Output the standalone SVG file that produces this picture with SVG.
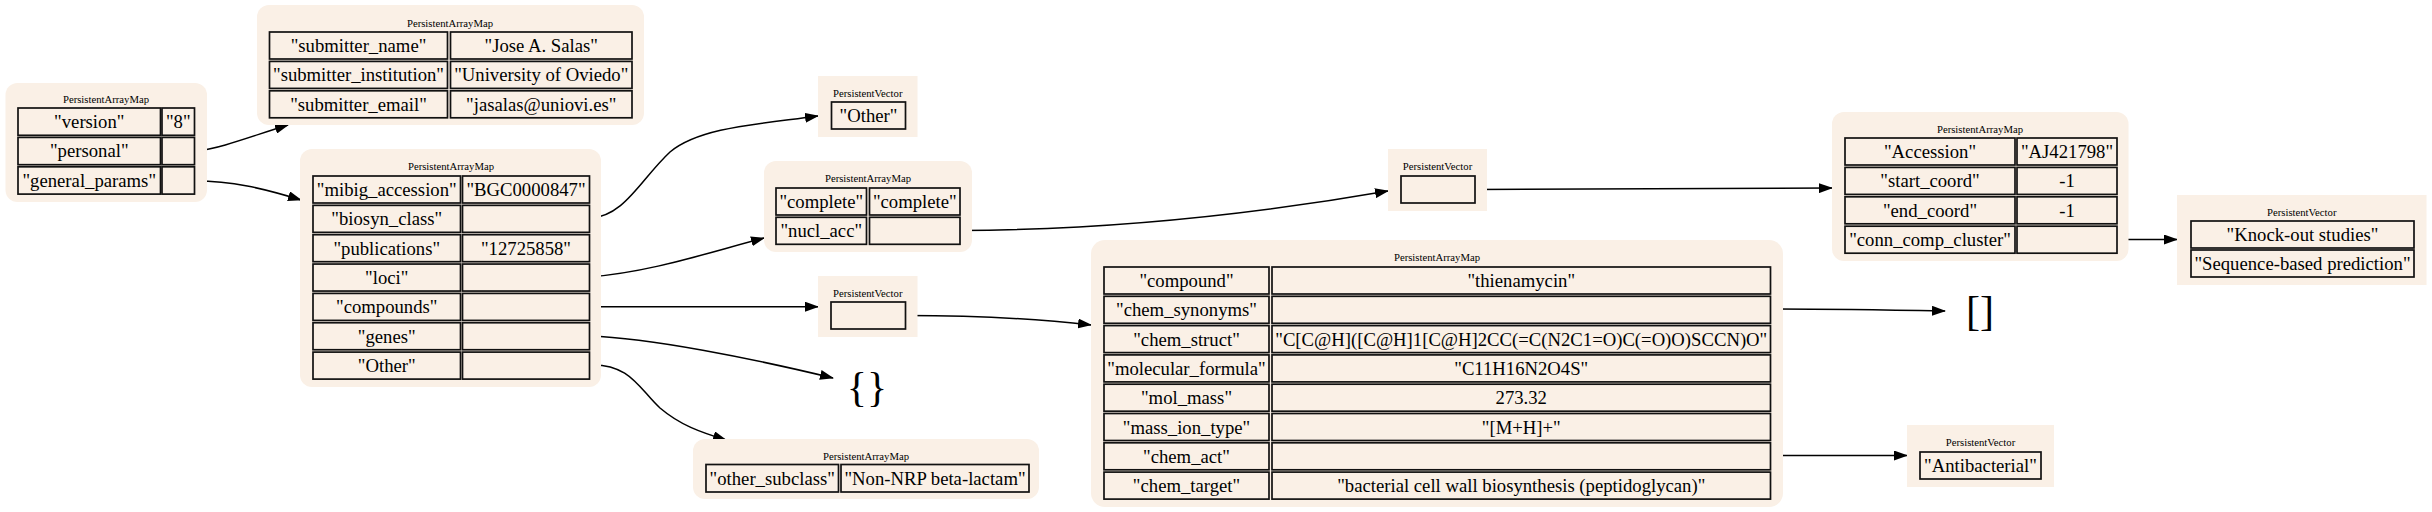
<svg xmlns="http://www.w3.org/2000/svg" width="2432" height="512" viewBox="0 0 2432 512">
<style>
.bg{fill:#faf0e6;stroke:none}
.cell{fill:#faf0e6;stroke:#111;stroke-width:1.7}
text{font-family:"Liberation Serif","Times New Roman",serif;fill:#000;text-anchor:middle}
.t{font-size:18.7px}
.ti{font-size:10.7px}
.big{font-size:42px}
.edge{fill:none;stroke:#000;stroke-width:1.5;marker-end:url(#arr)}
</style>
<defs>
<marker id="arr" markerUnits="userSpaceOnUse" markerWidth="14" markerHeight="10" viewBox="0 0 14 10" refX="13" refY="5" orient="auto">
<path d="M0,0 L14,5 L0,10 z" fill="#000"/>
</marker>
</defs>
<rect width="2432" height="512" fill="#fff"/>

<g id="connectors">
<path class="edge" d="M195,151.5 C222,148 252,136 288,125"/>
<path class="edge" d="M195,181 C232,181 262,188 301,200"/>
<path class="edge" d="M589.5,218.5 C625,216 640,180 670,152 C700,127 760,124 818,116"/>
<path class="edge" d="M589.5,277 C650,272 700,255 764,238"/>
<path class="edge" d="M589.5,306.7 L818,306.7"/>
<path class="edge" d="M589.5,336 C650,338 750,358 833,378"/>
<path class="edge" d="M589.5,365 C630,363 640,390 660,408 C680,425 700,432 726,440"/>
<path class="edge" d="M960,230.5 C1100,230 1250,215 1388,191"/>
<path class="edge" d="M1475,189.5 C1600,189.5 1720,189 1832,188"/>
<path class="edge" d="M905.5,315.5 C970,315.5 1030,318 1091,325"/>
<path class="edge" d="M1770.5,309 C1830,309 1890,310 1945,311"/>
<path class="edge" d="M1770.5,455.5 L1907,455.5"/>
<path class="edge" d="M2117,239.5 L2177,239.5"/>
</g>

<g id="n1">
<rect class="bg" x="5.5" y="83" width="201.5" height="119" rx="12"/>
<text class="ti" x="106" y="102.5">PersistentArrayMap</text>
<rect class="cell" x="18" y="108" width="142.5" height="27.3"/><rect class="cell" x="162" y="108" width="32.5" height="27.3"/>
<rect class="cell" x="18" y="137.4" width="142.5" height="27.3"/><rect class="cell" x="162" y="137.4" width="32.5" height="27.3"/>
<rect class="cell" x="18" y="166.8" width="142.5" height="27.3"/><rect class="cell" x="162" y="166.8" width="32.5" height="27.3"/>
<text class="t" x="89.25" y="128">"version"</text><text class="t" x="178.25" y="128">"8"</text>
<text class="t" x="89.25" y="157.4">"personal"</text>
<text class="t" x="89.25" y="186.8">"general_params"</text>
</g>

<g id="n2">
<rect class="bg" x="257" y="5" width="387" height="120" rx="12"/>
<text class="ti" x="450" y="26.5">PersistentArrayMap</text>
<rect class="cell" x="269.5" y="32" width="178" height="27"/><rect class="cell" x="450.5" y="32" width="181.5" height="27"/>
<rect class="cell" x="269.5" y="61.4" width="178" height="27"/><rect class="cell" x="450.5" y="61.4" width="181.5" height="27"/>
<rect class="cell" x="269.5" y="90.8" width="178" height="27"/><rect class="cell" x="450.5" y="90.8" width="181.5" height="27"/>
<text class="t" x="358.5" y="52">"submitter_name"</text><text class="t" x="541.25" y="52">"Jose A. Salas"</text>
<text class="t" x="358.5" y="81.4">"submitter_institution"</text><text class="t" x="541.25" y="81.4">"University of Oviedo"</text>
<text class="t" x="358.5" y="110.8">"submitter_email"</text><text class="t" x="541.25" y="110.8">"jasalas@uniovi.es"</text>
</g>

<g id="n3">
<rect class="bg" x="300" y="149" width="301" height="238" rx="12"/>
<text class="ti" x="451" y="169.5">PersistentArrayMap</text>
<rect class="cell" x="313" y="176" width="147.5" height="27"/><rect class="cell" x="462.5" y="176" width="127" height="27"/>
<rect class="cell" x="313" y="205.35" width="147.5" height="27"/><rect class="cell" x="462.5" y="205.35" width="127" height="27"/>
<rect class="cell" x="313" y="234.7" width="147.5" height="27"/><rect class="cell" x="462.5" y="234.7" width="127" height="27"/>
<rect class="cell" x="313" y="264.05" width="147.5" height="27"/><rect class="cell" x="462.5" y="264.05" width="127" height="27"/>
<rect class="cell" x="313" y="293.4" width="147.5" height="27"/><rect class="cell" x="462.5" y="293.4" width="127" height="27"/>
<rect class="cell" x="313" y="322.75" width="147.5" height="27"/><rect class="cell" x="462.5" y="322.75" width="127" height="27"/>
<rect class="cell" x="313" y="352.1" width="147.5" height="27"/><rect class="cell" x="462.5" y="352.1" width="127" height="27"/>
<text class="t" x="386.75" y="196">"mibig_accession"</text><text class="t" x="526" y="196">"BGC0000847"</text>
<text class="t" x="386.75" y="225.35">"biosyn_class"</text>
<text class="t" x="386.75" y="254.7">"publications"</text><text class="t" x="526" y="254.7">"12725858"</text>
<text class="t" x="386.75" y="284.05">"loci"</text>
<text class="t" x="386.75" y="313.4">"compounds"</text>
<text class="t" x="386.75" y="342.75">"genes"</text>
<text class="t" x="386.75" y="372.1">"Other"</text>
</g>

<g id="n4">
<rect class="bg" x="818" y="76" width="99.5" height="61"/>
<text class="ti" x="867.75" y="96.5">PersistentVector</text>
<rect class="cell" x="831.5" y="102" width="74" height="27"/>
<text class="t" x="868.5" y="122">"Other"</text>
</g>

<g id="n5">
<rect class="bg" x="764" y="161" width="208" height="91" rx="12"/>
<text class="ti" x="868" y="181.5">PersistentArrayMap</text>
<rect class="cell" x="776" y="188" width="90.5" height="27"/><rect class="cell" x="869.5" y="188" width="90.5" height="27"/>
<rect class="cell" x="776" y="217.3" width="90.5" height="27"/><rect class="cell" x="869.5" y="217.3" width="90.5" height="27"/>
<text class="t" x="821.25" y="208">"complete"</text><text class="t" x="914.75" y="208">"complete"</text>
<text class="t" x="821.25" y="237.3">"nucl_acc"</text>
</g>

<g id="n6">
<rect class="bg" x="818" y="276" width="99.5" height="61"/>
<text class="ti" x="867.75" y="296.5">PersistentVector</text>
<rect class="cell" x="831" y="302" width="74.5" height="27"/>
</g>

<g id="n7">
<text class="big" x="867" y="401">{}</text>
</g>

<g id="n8">
<rect class="bg" x="693" y="439" width="346" height="60" rx="12"/>
<text class="ti" x="866" y="459.5">PersistentArrayMap</text>
<rect class="cell" x="706" y="464.5" width="132.5" height="27.5"/><rect class="cell" x="841" y="464.5" width="188" height="27.5"/>
<text class="t" x="772.25" y="484.7">"other_subclass"</text><text class="t" x="935" y="484.7">"Non-NRP beta-lactam"</text>
</g>

<g id="n9">
<rect class="bg" x="1388" y="149" width="99" height="62"/>
<text class="ti" x="1437.5" y="169.5">PersistentVector</text>
<rect class="cell" x="1401" y="176" width="74" height="27"/>
</g>

<g id="n10">
<rect class="bg" x="1091" y="240" width="692" height="267" rx="14"/>
<text class="ti" x="1437" y="260.5">PersistentArrayMap</text>
<rect class="cell" x="1104" y="267" width="165" height="27"/><rect class="cell" x="1272" y="267" width="498.5" height="27"/>
<rect class="cell" x="1104" y="296.3" width="165" height="27"/><rect class="cell" x="1272" y="296.3" width="498.5" height="27"/>
<rect class="cell" x="1104" y="325.6" width="165" height="27"/><rect class="cell" x="1272" y="325.6" width="498.5" height="27"/>
<rect class="cell" x="1104" y="354.9" width="165" height="27"/><rect class="cell" x="1272" y="354.9" width="498.5" height="27"/>
<rect class="cell" x="1104" y="384.2" width="165" height="27"/><rect class="cell" x="1272" y="384.2" width="498.5" height="27"/>
<rect class="cell" x="1104" y="413.5" width="165" height="27"/><rect class="cell" x="1272" y="413.5" width="498.5" height="27"/>
<rect class="cell" x="1104" y="442.8" width="165" height="27"/><rect class="cell" x="1272" y="442.8" width="498.5" height="27"/>
<rect class="cell" x="1104" y="472.1" width="165" height="27"/><rect class="cell" x="1272" y="472.1" width="498.5" height="27"/>
<text class="t" x="1186.5" y="287">"compound"</text><text class="t" x="1521.25" y="287">"thienamycin"</text>
<text class="t" x="1186.5" y="316.3">"chem_synonyms"</text>
<text class="t" x="1186.5" y="345.6">"chem_struct"</text><text class="t" x="1521.25" y="345.6">"C[C@H]([C@H]1[C@H]2CC(=C(N2C1=O)C(=O)O)SCCN)O"</text>
<text class="t" x="1186.5" y="374.9">"molecular_formula"</text><text class="t" x="1521.25" y="374.9">"C11H16N2O4S"</text>
<text class="t" x="1186.5" y="404.2">"mol_mass"</text><text class="t" x="1521.25" y="404.2">273.32</text>
<text class="t" x="1186.5" y="433.5">"mass_ion_type"</text><text class="t" x="1521.25" y="433.5">"[M+H]+"</text>
<text class="t" x="1186.5" y="462.8">"chem_act"</text>
<text class="t" x="1186.5" y="492.1">"chem_target"</text><text class="t" x="1521.25" y="492.1">"bacterial cell wall biosynthesis (peptidoglycan)"</text>
</g>

<g id="n11">
<rect class="bg" x="1832" y="112" width="296.5" height="149" rx="12"/>
<text class="ti" x="1980" y="132.5">PersistentArrayMap</text>
<rect class="cell" x="1845" y="138" width="170" height="27"/><rect class="cell" x="2017" y="138" width="100" height="27"/>
<rect class="cell" x="1845" y="167.4" width="170" height="27"/><rect class="cell" x="2017" y="167.4" width="100" height="27"/>
<rect class="cell" x="1845" y="196.8" width="170" height="27"/><rect class="cell" x="2017" y="196.8" width="100" height="27"/>
<rect class="cell" x="1845" y="226.2" width="170" height="27"/><rect class="cell" x="2017" y="226.2" width="100" height="27"/>
<text class="t" x="1930" y="158">"Accession"</text><text class="t" x="2067" y="158">"AJ421798"</text>
<text class="t" x="1930" y="187.4">"start_coord"</text><text class="t" x="2067" y="187.4">-1</text>
<text class="t" x="1930" y="216.8">"end_coord"</text><text class="t" x="2067" y="216.8">-1</text>
<text class="t" x="1930" y="246.2">"conn_comp_cluster"</text>
</g>

<g id="n12">
<text class="big" x="1980" y="325">[]</text>
</g>

<g id="n13">
<rect class="bg" x="1907" y="425" width="147" height="62"/>
<text class="ti" x="1980.5" y="445.5">PersistentVector</text>
<rect class="cell" x="1920" y="452" width="121" height="27"/>
<text class="t" x="1980.5" y="472">"Antibacterial"</text>
</g>

<g id="n14">
<rect class="bg" x="2177" y="195" width="249.5" height="90"/>
<text class="ti" x="2301.75" y="215.5">PersistentVector</text>
<rect class="cell" x="2191" y="221" width="223" height="27"/>
<rect class="cell" x="2191" y="250" width="223" height="27"/>
<text class="t" x="2302.5" y="241">"Knock-out studies"</text>
<text class="t" x="2302.5" y="270">"Sequence-based prediction"</text>
</g>
</svg>
